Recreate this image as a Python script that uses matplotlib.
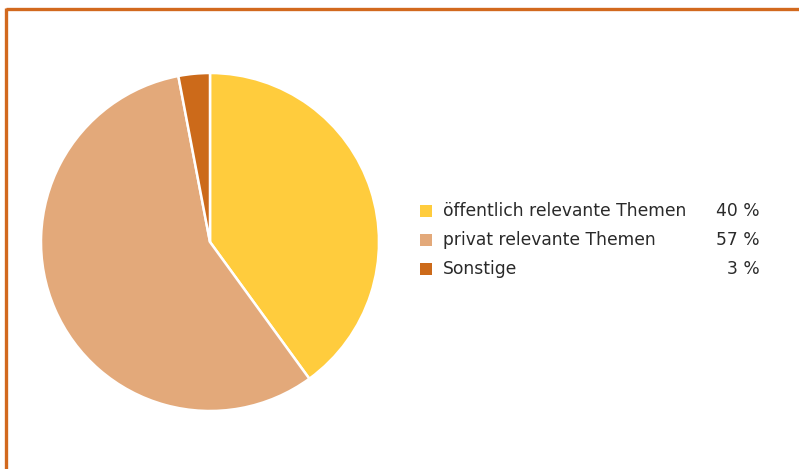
import matplotlib
matplotlib.use('Agg')
import matplotlib.pyplot as plt
from matplotlib.lines import Line2D
from matplotlib.patches import Rectangle

plt.rcParams['font.family'] = ['DejaVu Sans']

# shares of topics
labels = ['öffentlich relevante Themen', 'privat relevante Themen', 'Sonstige']
shares = [40, 57, 3]
colors = ['#FFCC3D', '#E3A97A', '#CC6A1A']

W, H = 799, 469
fig = plt.figure(figsize=(W / 100, H / 100), dpi=100)
fig.patch.set_facecolor('white')

# pie: centre (210, 242) px, radius 169 px
cx, cy, r = 210, 242, 169
ax = fig.add_axes([(cx - r) / W, (H - cy - r) / H, 2 * r / W, 2 * r / H])
ax.pie(shares, colors=colors, startangle=90, counterclock=False,
       wedgeprops=dict(edgecolor='white', linewidth=1.8))
ax.set_xlim(-1, 1)
ax.set_ylim(-1, 1)
ax.set_aspect('equal')
ax.axis('off')

# frame lines along top and left
frame = '#D2691E'
fig.add_artist(Line2D([6 / W, 1], [1 - 9.5 / H, 1 - 9.5 / H], color=frame,
                      lw=2.4, transform=fig.transFigure, solid_capstyle='butt'))
fig.add_artist(Line2D([6 / W, 6 / W], [0, 1 - 8.3 / H], color=frame,
                      lw=2.4, transform=fig.transFigure, solid_capstyle='butt'))

# legend with percentages
rows_y = [211, 240, 269]
for lab, val, col, y in zip(labels, shares, colors, rows_y):
    fig.add_artist(Rectangle((420 / W, (H - y - 6) / H), 12 / W, 12 / H,
                             facecolor=col, edgecolor='none',
                             transform=fig.transFigure))
    fig.text(443 / W, (H - y) / H, lab, ha='left', va='center',
             fontsize=12.3, color='#2A2A2A')
    fig.text(760 / W, (H - y) / H, f'{val} %', ha='right', va='center',
             fontsize=12.3, color='#2A2A2A')

fig.savefig('out.png', dpi=100)
